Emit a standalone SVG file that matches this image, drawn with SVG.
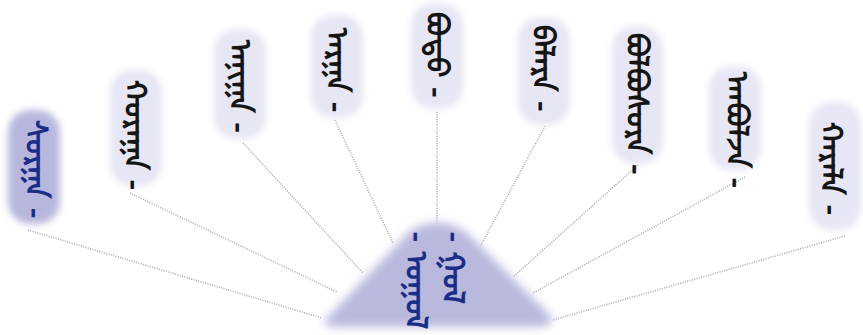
<svg xmlns="http://www.w3.org/2000/svg" width="863" height="335" viewBox="0 0 863 335">
<defs>
<filter id="soft" x="-30%" y="-30%" width="160%" height="160%"><feGaussianBlur stdDeviation="3.5"/></filter>
<filter id="soft2" x="-20%" y="-20%" width="140%" height="140%"><feGaussianBlur stdDeviation="5"/></filter>
<style>
.box{fill:#e6e6f4;filter:url(#soft)}
.sel{fill:#b7b7dd;filter:url(#soft)}
.mn{font-family:"Noto Sans Mongolian","Mongolian Baiti","Noto Sans","DejaVu Sans",sans-serif;font-size:30px;font-weight:bold;fill:#151515;dominant-baseline:central}
.vt{writing-mode:vertical-lr}
.blue{fill:#1c2d86}
.con{stroke:#a9a9bb;stroke-width:1.6;stroke-dasharray:1 1.4;fill:none}
</style>
</defs>
<rect width="863" height="335" fill="#ffffff"/>
<g id="connectors">
<line class="con" x1="28" y1="230" x2="322" y2="318"/>
<line class="con" x1="130" y1="193" x2="337" y2="292"/>
<line class="con" x1="243" y1="143" x2="363" y2="273"/>
<line class="con" x1="335" y1="120" x2="393" y2="243"/>
<line class="con" x1="437" y1="112" x2="437" y2="224"/>
<line class="con" x1="545" y1="126" x2="480" y2="247"/>
<line class="con" x1="638" y1="165" x2="513" y2="277"/>
<line class="con" x1="745" y1="177" x2="533" y2="293"/>
<line class="con" x1="845" y1="236" x2="553" y2="320"/>
</g>
<g id="n1"><rect class="sel" x="8" y="110" width="52" height="114" rx="22"/><text class="mn blue" transform="translate(43,120) rotate(90)">ᠰᠤᠷᠭᠠ<tspan dx="10">-</tspan></text></g>
<g id="n2"><rect class="box" x="110" y="70" width="52" height="116" rx="22"/><text class="mn" transform="translate(142,80) rotate(90)">ᠬᠤᠷᠠᠭᠠ<tspan dx="10">-</tspan></text></g>
<g id="n3"><rect class="box" x="214" y="29" width="52" height="110" rx="22"/><text class="mn" transform="translate(247,40) rotate(90)">ᠠᠨᠢᠭᠠ<tspan dx="10">-</tspan></text></g>
<g id="n4"><rect class="box" x="311" y="15" width="52" height="103" rx="22"/><text class="mn" transform="translate(344,28) rotate(90)">ᠠᠷᠭᠠ<tspan dx="10">-</tspan></text></g>
<g id="n5"><rect class="box" x="411" y="3" width="52" height="106" rx="22"/><text class="mn" transform="translate(444,12) rotate(90)">ᠪᠣᠳᠣ<tspan dx="10">-</tspan></text></g>
<g id="n6"><rect class="box" x="518" y="17" width="52" height="108" rx="22"/><text class="mn" transform="translate(550,25) rotate(90)">ᠪᠠᠯᠠᠷᠠ<tspan dx="10">-</tspan></text></g>
<g id="n7"><rect class="box" x="612" y="26" width="51" height="138" rx="22"/><text class="mn" transform="translate(644,33) rotate(90)">ᠪᠣᠯᠪᠣᠰᠤᠷᠠ<tspan dx="10">-</tspan></text></g>
<g id="n8"><rect class="box" x="709" y="66" width="52" height="104" rx="22"/><text class="mn" transform="translate(744,72) rotate(90)">ᠠᠨᠪᠤᠯᠵᠠ<tspan dx="10">-</tspan></text></g>
<g id="n9"><rect class="box" x="809" y="102" width="52" height="128" rx="22"/><text class="mn vt" x="838" y="122">ᠬᠠᠷᠠᠯᠠ<tspan dy="10">-</tspan></text></g>
<g id="center">
<path d="M325 320 L410 231 Q437 214 465 231 L551 316 Q554 327 540 327 L337 327 Q321 327 325 320 Z" fill="#b9b9de" filter="url(#soft2)"/>
<text class="mn blue" transform="translate(424,232) rotate(90)">-<tspan dx="10">ᠤᠭᠤᠯ</tspan></text>
<text class="mn blue" transform="translate(461,232) rotate(90)">-<tspan dx="10">ᠭᠤᠯ</tspan></text>
</g>
</svg>
